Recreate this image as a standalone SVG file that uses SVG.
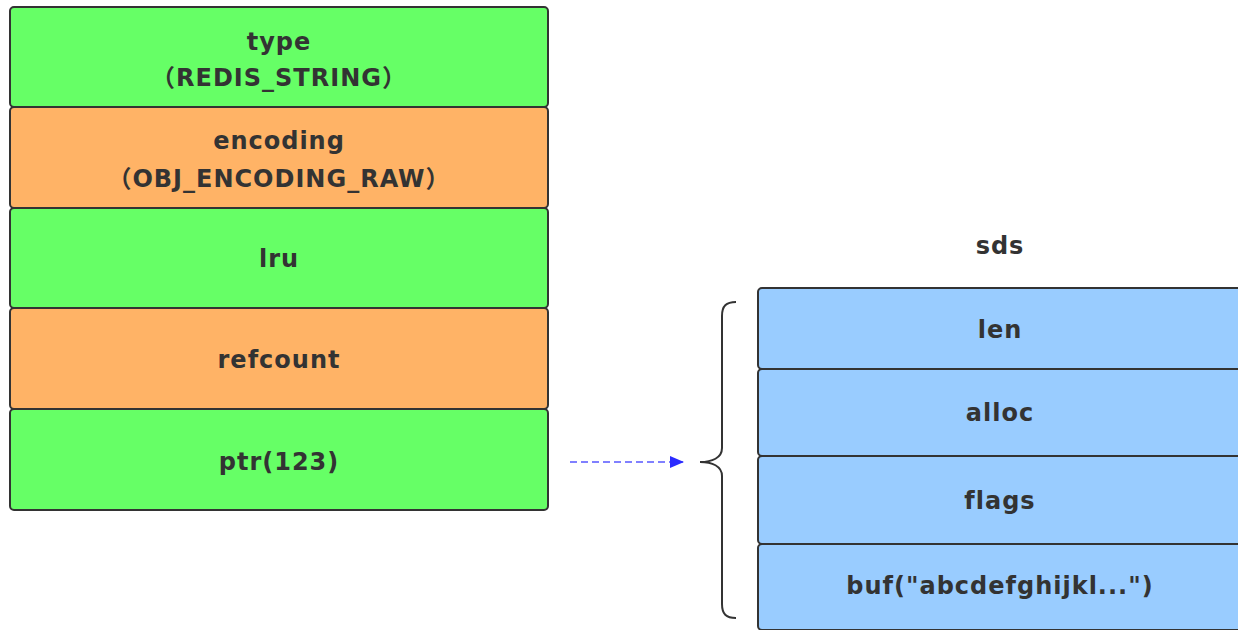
<svg xmlns="http://www.w3.org/2000/svg" width="1238" height="630" viewBox="0 0 1238 630">
<style>
.c{stroke:#333;stroke-width:2}
.g{fill:#66ff66}
.o{fill:#ffb366}
.b{fill:#99ccff}
text{font-family:"DejaVu Sans","Noto Sans CJK SC",sans-serif;font-size:24px;font-weight:bold;fill:#333;text-anchor:middle;letter-spacing:1px}
</style>
<defs>
<marker id="ah" markerWidth="14" markerHeight="12" refX="13" refY="6" orient="auto" markerUnits="userSpaceOnUse">
<path d="M0,0 L14,6 L0,12 Z" fill="#2b2bff"/>
</marker>
</defs>
<g id="type"><rect class="c g" x="10" y="7" width="538" height="100" rx="4"/><text x="279" y="50">type</text><text x="279" y="86">（REDIS_STRING）</text></g>
<g id="encoding"><rect class="c o" x="10" y="107" width="538" height="101" rx="4"/><text x="279" y="149">encoding</text><text x="279" y="187">（OBJ_ENCODING_RAW）</text></g>
<g id="lru"><rect class="c g" x="10" y="208" width="538" height="100" rx="4"/><text x="279" y="267">lru</text></g>
<g id="refcount"><rect class="c o" x="10" y="308" width="538" height="101" rx="4"/><text x="279" y="368">refcount</text></g>
<g id="ptr"><rect class="c g" x="10" y="409" width="538" height="101" rx="4"/><text x="279" y="470">ptr(123)</text></g>
<g id="sds-label"><text x="1000" y="254">sds</text></g>
<g id="len"><rect class="c b" x="758" y="288" width="486" height="81" rx="4"/><text x="1000" y="338">len</text></g>
<g id="alloc"><rect class="c b" x="758" y="369" width="486" height="87" rx="4"/><text x="1000" y="421">alloc</text></g>
<g id="flags"><rect class="c b" x="758" y="456" width="486" height="88" rx="4"/><text x="1000" y="509">flags</text></g>
<g id="buf"><rect class="c b" x="758" y="544" width="486" height="86" rx="4"/><text x="1000" y="594">buf("abcdefghijkl...")</text></g>
<g id="brace"><path d="M736,302 C726,302 722,306 722,316 L722,448 C722,458 712,462 700,462 C712,462 722,466 722,476 L722,604 C722,614 726,618 736,618" fill="none" stroke="#333" stroke-width="2"/></g>
<g id="connectors"><line x1="570" y1="462" x2="683" y2="462" stroke="#8080ff" stroke-width="2" stroke-dasharray="7,4" marker-end="url(#ah)"/></g>
</svg>
